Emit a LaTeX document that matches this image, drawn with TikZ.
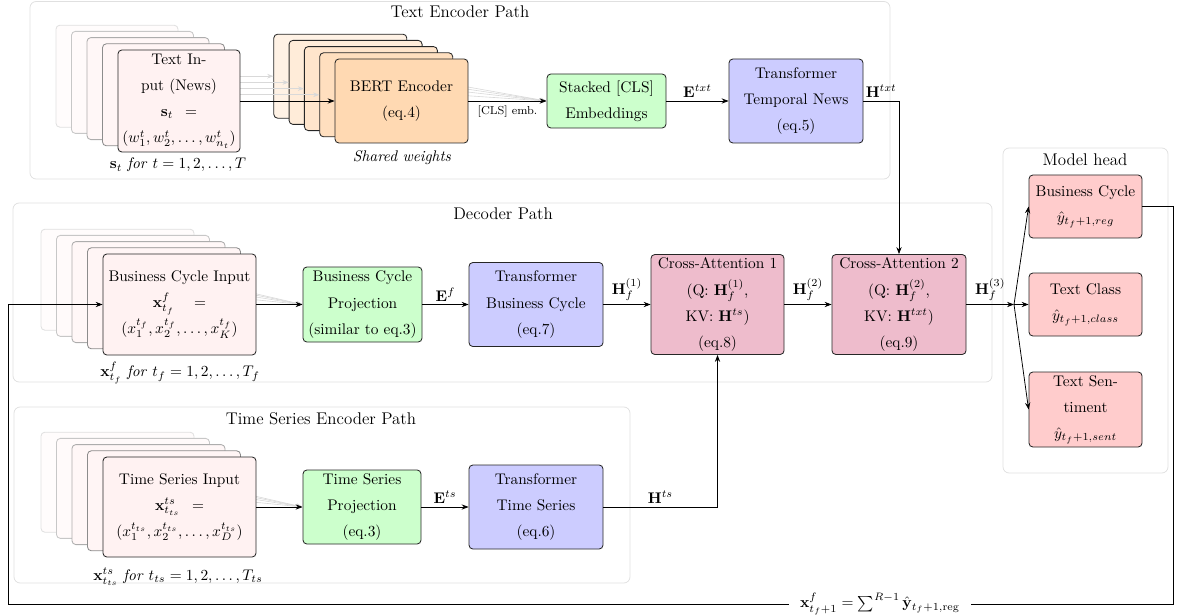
\documentclass[tikz,border=0pt]{standalone}
\usetikzlibrary{arrows.meta,calc}
\definecolor{cafill}{RGB}{238,188,204}
\begin{document}
\begin{tikzpicture}[x=0.65pt,y=-0.65pt,
  box/.style={draw=black!85, line width=0.55pt, rounded corners=2.5pt, align=center,
    inner sep=1pt, font=\fontsize{10}{17}\selectfont},
  sz/.style 2 args={minimum width=#1*0.65pt, minimum height=#2*0.65pt},
  panel/.style={draw=black!12, line width=0.5pt, rounded corners=4pt},
  ptitle/.style={font=\fontsize{11}{13}\selectfont, inner sep=0pt},
  arr/.style={-{Stealth[length=4.5pt,width=3.4pt]}, line width=0.5pt},
  ghost/.style={-{Stealth[length=4pt,width=3pt]}, draw=black!15, line width=0.4pt},
  elabel/.style={font=\fontsize{10}{12}\selectfont, inner sep=2pt},
  note/.style={font=\fontsize{10}{12}\selectfont, inner sep=0pt},
  infill/.style={fill=red!5},
]
\path[use as bounding box] (0,0) rectangle (1177,615);

% ---------- panels ----------
\draw[panel] (30,1.5) rectangle (890,179);
\node[ptitle] (tTitle) at (460,12) {Text Encoder Path};
\draw[panel] (13,203) rectangle (992,382);
\node[ptitle] (dTitle) at (503,214) {Decoder Path};
\draw[panel] (14,407) rectangle (630,583);
\node[ptitle] (sTitle) at (321,419) {Time Series Encoder Path};
\draw[panel] (1003,148) rectangle (1168,473);
\node[ptitle] (hTitle) at (1085,160) {Model head};

% ---------- text encoder path ----------
\foreach \k/\fc/\dc in {4/red!1/black!12,3/red!2/black!22,2/red!3/black!32,1/red!4/black!45}
  \node[box, sz={122}{102}, fill=\fc, draw=\dc] (ti\k) at ($(179,101)+(-15.5*\k,-6.2*\k)$) {};
\foreach \k/\fc in {4/orange!10,3/orange!15,2/orange!20,1/orange!25}
  \node[box, sz={133}{84}, fill=\fc] (tb\k) at ($(401.5,101)+(-15.3*\k,-6.2*\k)$) {};
\node[box, sz={119}{54}, fill=green!20] (st) at (606.5,101) {Stacked [CLS]\\Embeddings};
\foreach \k in {1,...,4} {
  \draw[ghost] (ti\k.east) -- (tb\k.west);
  \draw[ghost] (tb\k.east) -- (st.west);
}
\node[box, sz={122}{102}, infill] (ti0) at (179,101)
  {Text In-\\put (News)\\$\mathbf{s}_t\enspace=$\\$(w_1^t,w_2^t,\ldots,w_{n_t}^t)$};
\node[box, sz={133}{84}, fill=orange!30] (tb0) at (401.5,101) {BERT Encoder\\(eq.4)};
\node[box, sz={134}{84}, fill=blue!20] (ttn) at (796,101) {Transformer\\Temporal News\\(eq.5)};
\node[note] (sLbl) at (178,165) {$\mathbf{s}_t$ \textit{for} $t=1,2,\ldots,T$};
\node[note] (swLbl) at (402,158) {\textit{Shared weights}};

\draw[arr] (ti0.east) -- (tb0.west);
\draw[arr] (tb0.east) -- node[below, font=\fontsize{7.5}{9}\selectfont, inner sep=3pt] {[CLS] emb.} (st.west);
\draw[arr] (st.east) -- node[elabel, above] {$\mathbf{E}^{txt}$} (ttn.west);

% ---------- decoder path ----------
\foreach \k/\fc/\dc in {4/red!1/black!12,3/red!2/black!22,2/red!3/black!32,1/red!4/black!45}
  \node[box, sz={153}{101}, fill=\fc, draw=\dc] (di\k) at ($(179.5,304.5)+(-15.5*\k,-6.2*\k)$) {};
\node[box, sz={119}{75}, fill=green!20] (dp) at (362.5,304.5) {Business Cycle\\Projection\\(similar to eq.3)};
\foreach \k in {1,...,4}
  \draw[ghost] (di\k.east) -- (dp.west);
\node[box, sz={153}{101}, infill] (di0) at (179.5,304.5)
  {Business Cycle Input\\$\mathbf{x}^f_{t_f}\quad=$\\$(x_1^{t_f},x_2^{t_f},\ldots,x_K^{t_f})$};
\node[note] (dLbl) at (180,373) {$\mathbf{x}^f_{t_f}$ \textit{for} $t_f=1,2,\ldots,T_f$};
\node[box, sz={134}{84}, fill=blue!20] (tbc) at (536,304.5) {Transformer\\Business Cycle\\(eq.7)};
\node[box, sz={133}{100}, fill=cafill] (ca1) at (717.5,304.5)
  {Cross-Attention 1\\(Q: $\mathbf{H}_f^{(1)}$,\\KV: $\mathbf{H}^{ts}$)\\(eq.8)};
\node[box, sz={134}{100}, fill=cafill] (ca2) at (899,304.5)
  {Cross-Attention 2\\(Q: $\mathbf{H}_f^{(2)}$,\\KV: $\mathbf{H}^{txt}$)\\(eq.9)};

\draw[arr] (di0.east) -- (dp.west);
\draw[arr] (dp.east) -- node[elabel, above] {$\mathbf{E}^{f}$} (tbc.west);
\draw[arr] (tbc.east) -- node[elabel, above] {$\mathbf{H}_f^{(1)}$} (ca1.west);
\draw[arr] (ca1.east) -- node[elabel, above] {$\mathbf{H}_f^{(2)}$} (ca2.west);
\draw[arr] (ttn.east) -| node[elabel, above, pos=0.25] {$\mathbf{H}^{txt}$} (ca2.north);

% ---------- time series encoder path ----------
\foreach \k/\fc/\dc in {4/red!1/black!12,3/red!2/black!22,2/red!3/black!32,1/red!4/black!45}
  \node[box, sz={153}{100}, fill=\fc, draw=\dc] (si\k) at ($(179.5,507)+(-15.5*\k,-6.2*\k)$) {};
\node[box, sz={118}{74}, fill=green!20] (sp) at (362,507) {Time Series\\Projection\\(eq.3)};
\foreach \k in {1,...,4}
  \draw[ghost] (si\k.east) -- (sp.west);
\node[box, sz={153}{100}, infill] (si0) at (179.5,507)
  {Time Series Input\\$\mathbf{x}^{ts}_{t_{ts}}\enspace=$\\$(x_1^{t_{ts}},x_2^{t_{ts}},\ldots,x_D^{t_{ts}})$};
\node[note] (sLbl2) at (178,577) {$\mathbf{x}^{ts}_{t_{ts}}$ \textit{for} $t_{ts}=1,2,\ldots,T_{ts}$};
\node[box, sz={134}{84}, fill=blue!20] (tts) at (536,507) {Transformer\\Time Series\\(eq.6)};

\draw[arr] (si0.east) -- (sp.west);
\draw[arr] (sp.east) -- node[elabel, above] {$\mathbf{E}^{ts}$} (tts.west);
\draw[arr] (tts.east) -| node[elabel, above, pos=0.25] {$\mathbf{H}^{ts}$} (ca1.south);

% ---------- model head ----------
\node[box, sz={113}{63}, fill=red!20] (h1) at (1085.5,206.5) {Business Cycle\\$\hat{y}_{t_f+1,reg}$};
\node[box, sz={113}{63}, fill=red!20] (h2) at (1085.5,304.5) {Text Class\\$\hat{y}_{t_f+1,class}$};
\node[box, sz={113}{75}, fill=red!20] (h3) at (1085.5,409.5) {Text Sen-\\timent\\$\hat{y}_{t_f+1,sent}$};
\coordinate (split) at (1014,304.5);
\draw[arr] (ca2.east) -- node[elabel, above] {$\mathbf{H}_f^{(3)}$} (split);
\draw[arr] (split) -- (h1.west);
\draw[arr] (split) -- (h2.west);
\draw[arr] (split) -- (h3.west);

% ---------- autoregressive feedback ----------
\coordinate (fbR) at (1173,604);
\coordinate (fbL) at (8,604);
\draw[arr] (h1.east) -| (fbR)
  -- node[pos=0.2515, fill=white, inner xsep=7pt, inner ysep=1pt, font=\fontsize{10}{12}\selectfont]
     {$\mathbf{x}^f_{t_f+1}=\sum^{R-1}\hat{\mathbf{y}}_{t_f+1,\mathrm{reg}}$} (fbL)
  |- (di0.west);
\end{tikzpicture}
\end{document}
